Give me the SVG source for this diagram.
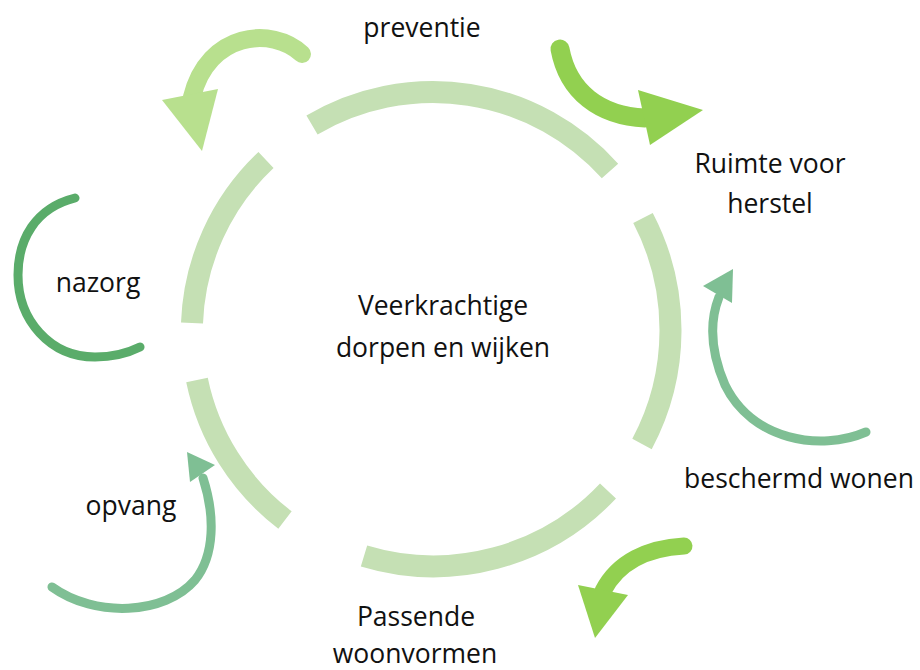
<svg xmlns="http://www.w3.org/2000/svg" width="920" height="670" viewBox="0 0 920 670">
<style>
.ring{fill:none;stroke:#c5e0b4;stroke-width:22;stroke-linecap:butt}
.lbl{font-family:"Open Sans","Liberation Sans",sans-serif;font-size:26.5px;fill:#111111;text-anchor:middle}
.body{fill:none;stroke-linecap:round}
</style>
<rect width="920" height="670" fill="#ffffff"/>
<g id="ring">
<path class="ring" d="M312,125 A238,238 0 0 1 610,171"/>
<path class="ring" d="M643,218 A242,242 0 0 1 642,444"/>
<path class="ring" d="M608,491 A240,240 0 0 1 364,556"/>
<path class="ring" d="M285,520 A236,236 0 0 1 197,380"/>
<path class="ring" d="M192,323 A236,236 0 0 1 266,160"/>
</g>
<g id="connectors">
<g id="arrow-preventie">
<path class="body" stroke="#b8e08e" stroke-width="18" d="M302,54 C 272,26 208,32 192,97"/>
<polygon fill="#b8e08e" points="162,100 218,89 202,151"/>
</g>
<g id="arrow-ruimte">
<path class="body" stroke="#92d050" stroke-width="19" d="M560,49 C 568,92 600,116 645,118"/>
<polygon fill="#92d050" points="638,90 650,145 703,110"/>
</g>
<g id="arrow-beschermd">
<path class="body" stroke="#7fbf94" stroke-width="9" d="M866,432 C 820,452 752,440 725,385 C 710,350 710,320 719,297"/>
<polygon fill="#7fbf94" points="733,269 703,286 732,303"/>
</g>
<g id="arrow-passende">
<path class="body" stroke="#92d050" stroke-width="17" d="M684,546 C 648,548 618,562 603,591"/>
<polygon fill="#92d050" points="578,585 628,595 595,638"/>
</g>
<g id="arrow-opvang">
<path class="body" stroke="#7fbf94" stroke-width="9" d="M52,587 C 95,618 165,615 195,580 C 215,555 215,515 203,478"/>
<polygon fill="#7fbf94" points="187,452 215,465 190,482"/>
</g>
<g id="arc-nazorg">
<path class="body" stroke="#5aac6a" stroke-width="9" d="M75,198 C 35,208 18,240 18,275 C 18,320 50,357 95,357 C 112,357 128,353 140,347"/>
</g>
</g>
<g id="node-center"><text class="lbl" x="443" y="315">Veerkrachtige</text><text class="lbl" x="443" y="357">dorpen en wijken</text></g>
<g id="node-preventie"><text class="lbl" x="422" y="37">preventie</text></g>
<g id="node-ruimte"><text class="lbl" x="770" y="173">Ruimte voor</text><text class="lbl" x="770" y="213">herstel</text></g>
<g id="node-nazorg"><text class="lbl" x="98" y="292">nazorg</text></g>
<g id="node-beschermd"><text class="lbl" x="799" y="488">beschermd wonen</text></g>
<g id="node-opvang"><text class="lbl" x="131" y="515">opvang</text></g>
<g id="node-passende"><text class="lbl" x="416" y="626">Passende</text><text class="lbl" x="415" y="663">woonvormen</text></g>
</svg>
